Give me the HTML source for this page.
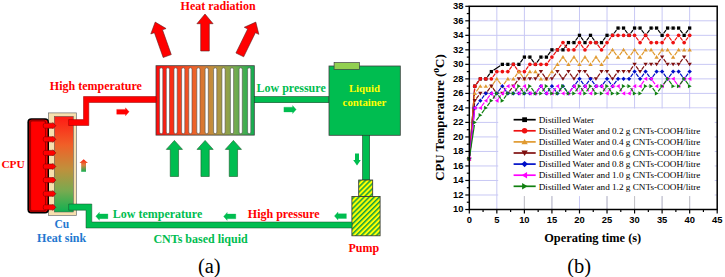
<!DOCTYPE html>
<html><head><meta charset="utf-8"><style>
html,body{margin:0;padding:0;background:#fff;width:725px;height:277px;overflow:hidden}
svg{display:block}
</style></head><body>
<svg width="725" height="277" viewBox="0 0 725 277">
<defs>
<linearGradient id="radg" x1="0" y1="0" x2="1" y2="0">
 <stop offset="0" stop-color="#ff0a0a"/>
 <stop offset="0.38" stop-color="#f06028"/>
 <stop offset="0.58" stop-color="#c0903c"/>
 <stop offset="0.8" stop-color="#78aa50"/>
 <stop offset="1" stop-color="#10b050"/>
</linearGradient>
<linearGradient id="hsg" x1="0" y1="0" x2="0" y2="1">
 <stop offset="0" stop-color="#ff1a14"/>
 <stop offset="0.3" stop-color="#f06028"/>
 <stop offset="0.55" stop-color="#c0903c"/>
 <stop offset="0.78" stop-color="#78aa50"/>
 <stop offset="1" stop-color="#10b050"/>
</linearGradient>
<linearGradient id="arg" x1="0" y1="0" x2="0" y2="1">
 <stop offset="0" stop-color="#ff1a0a"/>
 <stop offset="0.45" stop-color="#e08040"/>
 <stop offset="1" stop-color="#10b050"/>
</linearGradient>
<pattern id="hatch" patternUnits="userSpaceOnUse" width="3.6" height="3.6" patternTransform="rotate(45)">
 <rect width="3.6" height="3.6" fill="#ffff00"/>
 <rect width="1.5" height="3.6" fill="#14a040"/>
</pattern>
</defs>
<text x="218.1" y="9.6" style="font-family:'Liberation Serif',serif;font-size:12px;font-weight:bold;fill:#ff0000" text-anchor="middle" >Heat radiation</text>
<polygon points="155.20,22.10 166.07,28.54 162.49,29.81 171.27,54.60 163.16,57.47 154.38,32.68 150.80,33.95" fill="#ff0000" stroke="#602020" stroke-width="0.6"/>
<polygon points="205.00,14.00 213.10,23.70 209.30,23.70 209.30,51.00 200.70,51.00 200.70,23.70 196.90,23.70" fill="#ff0000" stroke="#602020" stroke-width="0.6"/>
<polygon points="255.80,22.10 258.83,34.37 255.41,32.70 243.66,56.79 235.93,53.02 247.68,28.93 244.27,27.27" fill="#ff0000" stroke="#602020" stroke-width="0.6"/>
<rect x="156" y="65.7" width="98.3" height="69.4" fill="url(#radg)" stroke="#404040" stroke-width="0.8"/>
<rect x="159.60" y="67.8" width="3.2" height="65.9" rx="1.6" fill="#ffffff" stroke="#505050" stroke-width="0.6"/>
<rect x="166.30" y="67.8" width="3.2" height="65.9" rx="1.6" fill="#ffffff" stroke="#505050" stroke-width="0.6"/>
<rect x="174.00" y="67.8" width="3.2" height="65.9" rx="1.6" fill="#ffffff" stroke="#505050" stroke-width="0.6"/>
<rect x="181.60" y="67.8" width="3.2" height="65.9" rx="1.6" fill="#ffffff" stroke="#505050" stroke-width="0.6"/>
<rect x="188.80" y="67.8" width="3.2" height="65.9" rx="1.6" fill="#ffffff" stroke="#505050" stroke-width="0.6"/>
<rect x="196.80" y="67.8" width="3.2" height="65.9" rx="1.6" fill="#ffffff" stroke="#505050" stroke-width="0.6"/>
<rect x="205.10" y="67.8" width="3.2" height="65.9" rx="1.6" fill="#ffffff" stroke="#505050" stroke-width="0.6"/>
<rect x="213.60" y="67.8" width="3.2" height="65.9" rx="1.6" fill="#ffffff" stroke="#505050" stroke-width="0.6"/>
<rect x="221.90" y="67.8" width="3.2" height="65.9" rx="1.6" fill="#ffffff" stroke="#505050" stroke-width="0.6"/>
<rect x="230.40" y="67.8" width="3.2" height="65.9" rx="1.6" fill="#ffffff" stroke="#505050" stroke-width="0.6"/>
<rect x="239.10" y="67.8" width="3.2" height="65.9" rx="1.6" fill="#ffffff" stroke="#505050" stroke-width="0.6"/>
<rect x="247.60" y="67.8" width="3.2" height="65.9" rx="1.6" fill="#ffffff" stroke="#505050" stroke-width="0.6"/>
<rect x="48.4" y="112.9" width="28" height="102.5" fill="#f6e0ae" stroke="#707070" stroke-width="0.7"/>
<rect x="54.3" y="116.4" width="19" height="95.6" fill="url(#hsg)" stroke="#505050" stroke-width="0.5"/>
<rect x="27.4" y="118.2" width="21.6" height="95.3" rx="4" fill="#000"/>
<rect x="29" y="119.8" width="18.6" height="92.1" rx="2.8" fill="#ff0000"/>
<rect x="29" y="119.8" width="17.1" height="92.1" rx="2.8" fill="#a00000"/>
<rect x="31.1" y="121.5" width="13.9" height="88.8" rx="1.2" fill="#ff0000"/>
<path d="M44.6,123.20 L52.9,123.20 L52.9,122.60 L55.8,125.70 L52.9,128.80 L52.9,128.20 L44.6,128.20 A1.4,2.5 0 0 1 44.6,123.20 Z" fill="#ff0000" stroke="#800000" stroke-width="0.6"/>
<path d="M44.6,136.80 L52.9,136.80 L52.9,136.20 L55.8,139.30 L52.9,142.40 L52.9,141.80 L44.6,141.80 A1.4,2.5 0 0 1 44.6,136.80 Z" fill="#ff0000" stroke="#800000" stroke-width="0.6"/>
<path d="M44.6,150.40 L52.9,150.40 L52.9,149.80 L55.8,152.90 L52.9,156.00 L52.9,155.40 L44.6,155.40 A1.4,2.5 0 0 1 44.6,150.40 Z" fill="#ff0000" stroke="#800000" stroke-width="0.6"/>
<path d="M44.6,164.00 L52.9,164.00 L52.9,163.40 L55.8,166.50 L52.9,169.60 L52.9,169.00 L44.6,169.00 A1.4,2.5 0 0 1 44.6,164.00 Z" fill="#ff0000" stroke="#800000" stroke-width="0.6"/>
<path d="M44.6,177.60 L52.9,177.60 L52.9,177.00 L55.8,180.10 L52.9,183.20 L52.9,182.60 L44.6,182.60 A1.4,2.5 0 0 1 44.6,177.60 Z" fill="#ff0000" stroke="#800000" stroke-width="0.6"/>
<path d="M44.6,191.20 L52.9,191.20 L52.9,190.60 L55.8,193.70 L52.9,196.80 L52.9,196.20 L44.6,196.20 A1.4,2.5 0 0 1 44.6,191.20 Z" fill="#ff0000" stroke="#800000" stroke-width="0.6"/>
<path d="M44.6,204.80 L52.9,204.80 L52.9,204.20 L55.8,207.30 L52.9,210.40 L52.9,209.80 L44.6,209.80 A1.4,2.5 0 0 1 44.6,204.80 Z" fill="#ff0000" stroke="#800000" stroke-width="0.6"/>
<polygon points="68.6,119.6 83.5,119.6 83.5,96.5 156,96.5 156,102.5 88.8,102.5 88.8,125.5 68.6,125.5" fill="#ff0000" stroke="#900000" stroke-width="0.5"/>
<polygon points="116.70,109.40 125.50,109.40 125.50,107.80 129.10,111.80 125.50,115.80 125.50,114.20 116.70,114.20" fill="#ff0000" stroke="#ff0000" stroke-width="0.3"/>
<rect x="254.3" y="96.6" width="74.7" height="6.1" fill="#00bd50" stroke="#1a4a2a" stroke-width="0.6"/>
<polygon points="283.90,107.20 292.60,107.20 292.60,105.60 296.20,109.60 292.60,113.60 292.60,112.00 283.90,112.00" fill="#00bd50" stroke="#00bd50" stroke-width="0.3"/>
<rect x="329" y="66" width="71.3" height="69.3" fill="#00bd50" stroke="#404040" stroke-width="0.8"/>
<rect x="334.1" y="62.6" width="25.3" height="6.8" fill="#92d050" stroke="#404040" stroke-width="0.7"/>
<text x="364.5" y="92" style="font-family:'Liberation Serif',serif;font-size:10.8px;font-weight:bold;fill:#ffff00" text-anchor="middle" >Liquid</text>
<text x="364.5" y="105.6" style="font-family:'Liberation Serif',serif;font-size:10.8px;font-weight:bold;fill:#ffff00" text-anchor="middle" >container</text>
<rect x="362.5" y="135.3" width="7.2" height="44.7" fill="#00bd50" stroke="#1a4a2a" stroke-width="0.6"/>
<polygon points="355,153.5 359,153.5 359,159.9 360.8,159.9 357,165.4 353.2,159.9 355,159.9" fill="#00bd50"/>
<rect x="358.7" y="180" width="14" height="16.4" fill="url(#hatch)" stroke="#303030" stroke-width="0.8"/>
<rect x="351.9" y="196.4" width="28.2" height="39.4" fill="url(#hatch)" stroke="#303030" stroke-width="0.8"/>
<text x="363.85" y="252.4" style="font-family:'Liberation Serif',serif;font-size:12px;font-weight:bold;fill:#ff0000" text-anchor="middle" >Pump</text>
<polygon points="351.9,222 91.8,222 91.8,204 68.7,204 68.7,210.2 86,210.2 86,228 351.9,228" fill="#00bd50" stroke="#1a4a2a" stroke-width="0.5"/>
<polygon points="107.90,213.90 99.40,213.90 99.40,212.30 95.80,216.30 99.40,220.30 99.40,218.70 107.90,218.70" fill="#00bd50" stroke="#00bd50" stroke-width="0.3"/>
<polygon points="235.80,214.00 227.20,214.00 227.20,212.40 223.60,216.40 227.20,220.40 227.20,218.80 235.80,218.80" fill="#00bd50" stroke="#00bd50" stroke-width="0.3"/>
<polygon points="346.40,213.70 338.00,213.70 338.00,212.10 334.40,216.10 338.00,220.10 338.00,218.50 346.40,218.50" fill="#00bd50" stroke="#00bd50" stroke-width="0.3"/>
<text x="49.8" y="90.2" style="font-family:'Liberation Serif',serif;font-size:12px;font-weight:bold;fill:#ff0000" text-anchor="start" >High temperature</text>
<text x="256.5" y="91.6" style="font-family:'Liberation Serif',serif;font-size:12px;font-weight:bold;fill:#00bd50" text-anchor="start" >Low pressure</text>
<text x="112.8" y="218.3" style="font-family:'Liberation Serif',serif;font-size:12px;font-weight:bold;fill:#00bd50" text-anchor="start" >Low temperature</text>
<text x="247.8" y="218.1" style="font-family:'Liberation Serif',serif;font-size:12px;font-weight:bold;fill:#ff0000" text-anchor="start" >High pressure</text>
<text x="153.4" y="242.9" style="font-family:'Liberation Serif',serif;font-size:12px;font-weight:bold;fill:#00bd50" text-anchor="start" >CNTs based liquid</text>
<polygon points="174.40,140.40 182.50,149.40 178.55,149.40 178.55,176.50 170.25,176.50 170.25,149.40 166.30,149.40" fill="#00bd50" stroke="#1a5a2a" stroke-width="0.6"/>
<polygon points="205.10,140.40 213.20,149.40 209.25,149.40 209.25,176.50 200.95,176.50 200.95,149.40 197.00,149.40" fill="#00bd50" stroke="#1a5a2a" stroke-width="0.6"/>
<polygon points="233.40,140.40 241.50,149.40 237.55,149.40 237.55,176.50 229.25,176.50 229.25,149.40 225.30,149.40" fill="#00bd50" stroke="#1a5a2a" stroke-width="0.6"/>
<text x="1.4" y="168.2" style="font-family:'Liberation Serif',serif;font-size:11.4px;font-weight:bold;fill:#ff0000" text-anchor="start" >CPU</text>
<text x="61.9" y="227.8" style="font-family:'Liberation Serif',serif;font-size:11.5px;font-weight:bold;fill:#1f78d0" text-anchor="middle" >Cu</text>
<text x="61.6" y="241.5" style="font-family:'Liberation Serif',serif;font-size:12px;font-weight:bold;fill:#1f78d0" text-anchor="middle" >Heat sink</text>
<polygon points="83.7,159.3 88,163.1 86,163.1 86,171.8 81.2,171.8 81.2,163.1 79.4,163.1" fill="url(#arg)"/>
<text x="209.3" y="272.7" style="font-family:'Liberation Serif',serif;font-size:20.5px;font-weight:normal;fill:#000" text-anchor="middle" >(a)</text>
<line x1="469.3" y1="194.99" x2="717.2" y2="194.99" stroke="#c8c8f4" stroke-width="1"/>
<line x1="469.3" y1="180.47" x2="717.2" y2="180.47" stroke="#c8c8f4" stroke-width="1"/>
<line x1="469.3" y1="165.96" x2="717.2" y2="165.96" stroke="#c8c8f4" stroke-width="1"/>
<line x1="469.3" y1="151.44" x2="717.2" y2="151.44" stroke="#c8c8f4" stroke-width="1"/>
<line x1="469.3" y1="136.93" x2="717.2" y2="136.93" stroke="#c8c8f4" stroke-width="1"/>
<line x1="469.3" y1="122.41" x2="717.2" y2="122.41" stroke="#c8c8f4" stroke-width="1"/>
<line x1="469.3" y1="107.90" x2="717.2" y2="107.90" stroke="#c8c8f4" stroke-width="1"/>
<line x1="469.3" y1="93.39" x2="717.2" y2="93.39" stroke="#c8c8f4" stroke-width="1"/>
<line x1="469.3" y1="78.87" x2="717.2" y2="78.87" stroke="#c8c8f4" stroke-width="1"/>
<line x1="469.3" y1="64.36" x2="717.2" y2="64.36" stroke="#c8c8f4" stroke-width="1"/>
<line x1="469.3" y1="49.84" x2="717.2" y2="49.84" stroke="#c8c8f4" stroke-width="1"/>
<line x1="469.3" y1="35.33" x2="717.2" y2="35.33" stroke="#c8c8f4" stroke-width="1"/>
<line x1="469.3" y1="20.81" x2="717.2" y2="20.81" stroke="#c8c8f4" stroke-width="1"/>
<line x1="496.84" y1="6.3" x2="496.84" y2="209.5" stroke="#c8c8f4" stroke-width="1"/>
<line x1="524.39" y1="6.3" x2="524.39" y2="209.5" stroke="#c8c8f4" stroke-width="1"/>
<line x1="551.93" y1="6.3" x2="551.93" y2="209.5" stroke="#c8c8f4" stroke-width="1"/>
<line x1="579.48" y1="6.3" x2="579.48" y2="209.5" stroke="#c8c8f4" stroke-width="1"/>
<line x1="607.02" y1="6.3" x2="607.02" y2="209.5" stroke="#c8c8f4" stroke-width="1"/>
<line x1="634.57" y1="6.3" x2="634.57" y2="209.5" stroke="#c8c8f4" stroke-width="1"/>
<line x1="662.11" y1="6.3" x2="662.11" y2="209.5" stroke="#c8c8f4" stroke-width="1"/>
<line x1="689.66" y1="6.3" x2="689.66" y2="209.5" stroke="#c8c8f4" stroke-width="1"/>
<line x1="465.3" y1="209.50" x2="469.3" y2="209.50" stroke="#000" stroke-width="1.2"/>
<line x1="466.8" y1="202.24" x2="469.3" y2="202.24" stroke="#000" stroke-width="1.2"/>
<line x1="465.3" y1="194.99" x2="469.3" y2="194.99" stroke="#000" stroke-width="1.2"/>
<line x1="466.8" y1="187.73" x2="469.3" y2="187.73" stroke="#000" stroke-width="1.2"/>
<line x1="465.3" y1="180.47" x2="469.3" y2="180.47" stroke="#000" stroke-width="1.2"/>
<line x1="466.8" y1="173.21" x2="469.3" y2="173.21" stroke="#000" stroke-width="1.2"/>
<line x1="465.3" y1="165.96" x2="469.3" y2="165.96" stroke="#000" stroke-width="1.2"/>
<line x1="466.8" y1="158.70" x2="469.3" y2="158.70" stroke="#000" stroke-width="1.2"/>
<line x1="465.3" y1="151.44" x2="469.3" y2="151.44" stroke="#000" stroke-width="1.2"/>
<line x1="466.8" y1="144.19" x2="469.3" y2="144.19" stroke="#000" stroke-width="1.2"/>
<line x1="465.3" y1="136.93" x2="469.3" y2="136.93" stroke="#000" stroke-width="1.2"/>
<line x1="466.8" y1="129.67" x2="469.3" y2="129.67" stroke="#000" stroke-width="1.2"/>
<line x1="465.3" y1="122.41" x2="469.3" y2="122.41" stroke="#000" stroke-width="1.2"/>
<line x1="466.8" y1="115.16" x2="469.3" y2="115.16" stroke="#000" stroke-width="1.2"/>
<line x1="465.3" y1="107.90" x2="469.3" y2="107.90" stroke="#000" stroke-width="1.2"/>
<line x1="466.8" y1="100.64" x2="469.3" y2="100.64" stroke="#000" stroke-width="1.2"/>
<line x1="465.3" y1="93.39" x2="469.3" y2="93.39" stroke="#000" stroke-width="1.2"/>
<line x1="466.8" y1="86.13" x2="469.3" y2="86.13" stroke="#000" stroke-width="1.2"/>
<line x1="465.3" y1="78.87" x2="469.3" y2="78.87" stroke="#000" stroke-width="1.2"/>
<line x1="466.8" y1="71.61" x2="469.3" y2="71.61" stroke="#000" stroke-width="1.2"/>
<line x1="465.3" y1="64.36" x2="469.3" y2="64.36" stroke="#000" stroke-width="1.2"/>
<line x1="466.8" y1="57.10" x2="469.3" y2="57.10" stroke="#000" stroke-width="1.2"/>
<line x1="465.3" y1="49.84" x2="469.3" y2="49.84" stroke="#000" stroke-width="1.2"/>
<line x1="466.8" y1="42.59" x2="469.3" y2="42.59" stroke="#000" stroke-width="1.2"/>
<line x1="465.3" y1="35.33" x2="469.3" y2="35.33" stroke="#000" stroke-width="1.2"/>
<line x1="466.8" y1="28.07" x2="469.3" y2="28.07" stroke="#000" stroke-width="1.2"/>
<line x1="465.3" y1="20.81" x2="469.3" y2="20.81" stroke="#000" stroke-width="1.2"/>
<line x1="466.8" y1="13.56" x2="469.3" y2="13.56" stroke="#000" stroke-width="1.2"/>
<line x1="465.3" y1="6.30" x2="469.3" y2="6.30" stroke="#000" stroke-width="1.2"/>
<line x1="469.30" y1="209.5" x2="469.30" y2="213.5" stroke="#000" stroke-width="1.2"/>
<line x1="483.07" y1="209.5" x2="483.07" y2="212.0" stroke="#000" stroke-width="1.2"/>
<line x1="496.84" y1="209.5" x2="496.84" y2="213.5" stroke="#000" stroke-width="1.2"/>
<line x1="510.62" y1="209.5" x2="510.62" y2="212.0" stroke="#000" stroke-width="1.2"/>
<line x1="524.39" y1="209.5" x2="524.39" y2="213.5" stroke="#000" stroke-width="1.2"/>
<line x1="538.16" y1="209.5" x2="538.16" y2="212.0" stroke="#000" stroke-width="1.2"/>
<line x1="551.93" y1="209.5" x2="551.93" y2="213.5" stroke="#000" stroke-width="1.2"/>
<line x1="565.71" y1="209.5" x2="565.71" y2="212.0" stroke="#000" stroke-width="1.2"/>
<line x1="579.48" y1="209.5" x2="579.48" y2="213.5" stroke="#000" stroke-width="1.2"/>
<line x1="593.25" y1="209.5" x2="593.25" y2="212.0" stroke="#000" stroke-width="1.2"/>
<line x1="607.02" y1="209.5" x2="607.02" y2="213.5" stroke="#000" stroke-width="1.2"/>
<line x1="620.79" y1="209.5" x2="620.79" y2="212.0" stroke="#000" stroke-width="1.2"/>
<line x1="634.57" y1="209.5" x2="634.57" y2="213.5" stroke="#000" stroke-width="1.2"/>
<line x1="648.34" y1="209.5" x2="648.34" y2="212.0" stroke="#000" stroke-width="1.2"/>
<line x1="662.11" y1="209.5" x2="662.11" y2="213.5" stroke="#000" stroke-width="1.2"/>
<line x1="675.88" y1="209.5" x2="675.88" y2="212.0" stroke="#000" stroke-width="1.2"/>
<line x1="689.66" y1="209.5" x2="689.66" y2="213.5" stroke="#000" stroke-width="1.2"/>
<line x1="703.43" y1="209.5" x2="703.43" y2="212.0" stroke="#000" stroke-width="1.2"/>
<line x1="717.20" y1="209.5" x2="717.20" y2="213.5" stroke="#000" stroke-width="1.2"/>
<text x="463.4" y="212.20" style="font-family:'Liberation Sans',sans-serif;font-size:9.4px;font-weight:bold;fill:#000" text-anchor="end" >10</text>
<text x="463.4" y="197.69" style="font-family:'Liberation Sans',sans-serif;font-size:9.4px;font-weight:bold;fill:#000" text-anchor="end" >12</text>
<text x="463.4" y="183.17" style="font-family:'Liberation Sans',sans-serif;font-size:9.4px;font-weight:bold;fill:#000" text-anchor="end" >14</text>
<text x="463.4" y="168.66" style="font-family:'Liberation Sans',sans-serif;font-size:9.4px;font-weight:bold;fill:#000" text-anchor="end" >16</text>
<text x="463.4" y="154.14" style="font-family:'Liberation Sans',sans-serif;font-size:9.4px;font-weight:bold;fill:#000" text-anchor="end" >18</text>
<text x="463.4" y="139.63" style="font-family:'Liberation Sans',sans-serif;font-size:9.4px;font-weight:bold;fill:#000" text-anchor="end" >20</text>
<text x="463.4" y="125.11" style="font-family:'Liberation Sans',sans-serif;font-size:9.4px;font-weight:bold;fill:#000" text-anchor="end" >22</text>
<text x="463.4" y="110.60" style="font-family:'Liberation Sans',sans-serif;font-size:9.4px;font-weight:bold;fill:#000" text-anchor="end" >24</text>
<text x="463.4" y="96.09" style="font-family:'Liberation Sans',sans-serif;font-size:9.4px;font-weight:bold;fill:#000" text-anchor="end" >26</text>
<text x="463.4" y="81.57" style="font-family:'Liberation Sans',sans-serif;font-size:9.4px;font-weight:bold;fill:#000" text-anchor="end" >28</text>
<text x="463.4" y="67.06" style="font-family:'Liberation Sans',sans-serif;font-size:9.4px;font-weight:bold;fill:#000" text-anchor="end" >30</text>
<text x="463.4" y="52.54" style="font-family:'Liberation Sans',sans-serif;font-size:9.4px;font-weight:bold;fill:#000" text-anchor="end" >32</text>
<text x="463.4" y="38.03" style="font-family:'Liberation Sans',sans-serif;font-size:9.4px;font-weight:bold;fill:#000" text-anchor="end" >34</text>
<text x="463.4" y="23.51" style="font-family:'Liberation Sans',sans-serif;font-size:9.4px;font-weight:bold;fill:#000" text-anchor="end" >36</text>
<text x="463.4" y="9.00" style="font-family:'Liberation Sans',sans-serif;font-size:9.4px;font-weight:bold;fill:#000" text-anchor="end" >38</text>
<text x="469.30" y="223.0" style="font-family:'Liberation Sans',sans-serif;font-size:9.4px;font-weight:bold;fill:#000" text-anchor="middle" >0</text>
<text x="496.84" y="223.0" style="font-family:'Liberation Sans',sans-serif;font-size:9.4px;font-weight:bold;fill:#000" text-anchor="middle" >5</text>
<text x="524.39" y="223.0" style="font-family:'Liberation Sans',sans-serif;font-size:9.4px;font-weight:bold;fill:#000" text-anchor="middle" >10</text>
<text x="551.93" y="223.0" style="font-family:'Liberation Sans',sans-serif;font-size:9.4px;font-weight:bold;fill:#000" text-anchor="middle" >15</text>
<text x="579.48" y="223.0" style="font-family:'Liberation Sans',sans-serif;font-size:9.4px;font-weight:bold;fill:#000" text-anchor="middle" >20</text>
<text x="607.02" y="223.0" style="font-family:'Liberation Sans',sans-serif;font-size:9.4px;font-weight:bold;fill:#000" text-anchor="middle" >25</text>
<text x="634.57" y="223.0" style="font-family:'Liberation Sans',sans-serif;font-size:9.4px;font-weight:bold;fill:#000" text-anchor="middle" >30</text>
<text x="662.11" y="223.0" style="font-family:'Liberation Sans',sans-serif;font-size:9.4px;font-weight:bold;fill:#000" text-anchor="middle" >35</text>
<text x="689.66" y="223.0" style="font-family:'Liberation Sans',sans-serif;font-size:9.4px;font-weight:bold;fill:#000" text-anchor="middle" >40</text>
<text x="717.20" y="223.0" style="font-family:'Liberation Sans',sans-serif;font-size:9.4px;font-weight:bold;fill:#000" text-anchor="middle" >45</text>
<text transform="translate(443.6,117.6) rotate(-90)" text-anchor="middle" style="font-family:'Liberation Serif',serif;font-size:12.85px;font-weight:bold;fill:#000">CPU Temperature (<tspan dy="-4.5" style="font-size:9.5px">o</tspan><tspan dy="4.5">C)</tspan></text>
<text x="592.7" y="242" style="font-family:'Liberation Serif',serif;font-size:12.4px;font-weight:bold;fill:#000" text-anchor="middle" >Operating time (s)</text>
<text x="579.2" y="272.7" style="font-family:'Liberation Serif',serif;font-size:20.5px;font-weight:normal;fill:#000" text-anchor="middle" >(b)</text>
<path d="M469.50,156.11L474.61,88.72M476.38,84.06L478.75,80.94M482.92,78.87L483.23,78.87M487.40,76.80L489.76,73.69M493.51,70.18L500.18,65.79M504.95,64.36L505.26,64.36M510.46,64.36L510.77,64.36M515.97,64.36L516.28,64.36M520.45,62.29L522.82,59.17M526.99,57.10L527.30,57.10M531.47,59.17L533.83,62.29M536.98,62.29L539.34,59.17M543.52,57.10L543.82,57.10M548.00,55.03L550.36,51.91M554.53,49.84L554.84,49.84M560.04,49.84L560.35,49.84M564.52,47.77L566.89,44.66M571.06,42.59L571.37,42.59M575.54,40.51L577.91,37.40M581.05,37.40L583.41,40.51M586.56,40.51L588.92,37.40M592.07,37.40L594.43,40.51M598.60,42.59L598.91,42.59M603.09,40.51L605.45,37.40M609.62,35.33L609.93,35.33M614.10,33.26L616.47,30.14M620.64,28.07L620.95,28.07M625.12,30.14L627.49,33.26M630.63,33.26L632.99,30.14M637.17,28.07L637.48,28.07M641.65,30.14L644.01,33.26M647.16,33.26L649.52,30.14M653.69,28.07L654.00,28.07M658.17,30.14L660.54,33.26M663.68,33.26L666.05,30.14M670.22,28.07L670.53,28.07M675.73,28.07L676.04,28.07M680.21,30.14L682.57,33.26M685.72,33.26L688.08,30.14" fill="none" stroke="#000000" stroke-width="1.2"/>
<rect x="467.65" y="157.05" width="3.30" height="3.30" fill="#000000"/>
<rect x="473.16" y="84.48" width="3.30" height="3.30" fill="#000000"/>
<rect x="478.67" y="77.22" width="3.30" height="3.30" fill="#000000"/>
<rect x="484.18" y="77.22" width="3.30" height="3.30" fill="#000000"/>
<rect x="489.69" y="69.96" width="3.30" height="3.30" fill="#000000"/>
<rect x="500.70" y="62.71" width="3.30" height="3.30" fill="#000000"/>
<rect x="506.21" y="62.71" width="3.30" height="3.30" fill="#000000"/>
<rect x="511.72" y="62.71" width="3.30" height="3.30" fill="#000000"/>
<rect x="517.23" y="62.71" width="3.30" height="3.30" fill="#000000"/>
<rect x="522.74" y="55.45" width="3.30" height="3.30" fill="#000000"/>
<rect x="528.25" y="55.45" width="3.30" height="3.30" fill="#000000"/>
<rect x="533.76" y="62.71" width="3.30" height="3.30" fill="#000000"/>
<rect x="539.27" y="55.45" width="3.30" height="3.30" fill="#000000"/>
<rect x="544.77" y="55.45" width="3.30" height="3.30" fill="#000000"/>
<rect x="550.28" y="48.19" width="3.30" height="3.30" fill="#000000"/>
<rect x="555.79" y="48.19" width="3.30" height="3.30" fill="#000000"/>
<rect x="561.30" y="48.19" width="3.30" height="3.30" fill="#000000"/>
<rect x="566.81" y="40.94" width="3.30" height="3.30" fill="#000000"/>
<rect x="572.32" y="40.94" width="3.30" height="3.30" fill="#000000"/>
<rect x="577.83" y="33.68" width="3.30" height="3.30" fill="#000000"/>
<rect x="583.34" y="40.94" width="3.30" height="3.30" fill="#000000"/>
<rect x="588.85" y="33.68" width="3.30" height="3.30" fill="#000000"/>
<rect x="594.35" y="40.94" width="3.30" height="3.30" fill="#000000"/>
<rect x="599.86" y="40.94" width="3.30" height="3.30" fill="#000000"/>
<rect x="605.37" y="33.68" width="3.30" height="3.30" fill="#000000"/>
<rect x="610.88" y="33.68" width="3.30" height="3.30" fill="#000000"/>
<rect x="616.39" y="26.42" width="3.30" height="3.30" fill="#000000"/>
<rect x="621.90" y="26.42" width="3.30" height="3.30" fill="#000000"/>
<rect x="627.41" y="33.68" width="3.30" height="3.30" fill="#000000"/>
<rect x="632.92" y="26.42" width="3.30" height="3.30" fill="#000000"/>
<rect x="638.43" y="26.42" width="3.30" height="3.30" fill="#000000"/>
<rect x="643.93" y="33.68" width="3.30" height="3.30" fill="#000000"/>
<rect x="649.44" y="26.42" width="3.30" height="3.30" fill="#000000"/>
<rect x="654.95" y="26.42" width="3.30" height="3.30" fill="#000000"/>
<rect x="660.46" y="33.68" width="3.30" height="3.30" fill="#000000"/>
<rect x="665.97" y="26.42" width="3.30" height="3.30" fill="#000000"/>
<rect x="671.48" y="26.42" width="3.30" height="3.30" fill="#000000"/>
<rect x="676.99" y="26.42" width="3.30" height="3.30" fill="#000000"/>
<rect x="682.50" y="33.68" width="3.30" height="3.30" fill="#000000"/>
<rect x="688.01" y="26.42" width="3.30" height="3.30" fill="#000000"/>
<path d="M469.50,156.11L474.61,88.72M476.38,84.06L478.75,80.94M482.92,78.87L483.23,78.87M488.43,78.87L488.74,78.87M492.91,76.80L495.27,73.69M499.44,71.61L499.75,71.61M504.95,71.61L505.26,71.61M509.43,69.54L511.80,66.43M514.94,66.43L517.31,69.54M521.48,71.61L521.79,71.61M525.96,69.54L528.33,66.43M532.50,64.36L532.81,64.36M538.01,64.36L538.32,64.36M543.52,64.36L543.82,64.36M548.00,62.29L550.36,59.17M553.51,55.03L555.87,51.91M559.01,47.77L561.38,44.66M564.52,44.66L566.89,47.77M571.06,49.84L571.37,49.84M575.54,47.77L577.91,44.66M581.05,44.66L583.41,47.77M586.56,47.77L588.92,44.66M593.10,42.59L593.40,42.59M597.58,44.66L599.94,47.77M603.09,47.77L605.45,44.66M608.59,40.51L610.96,37.40M615.13,35.33L615.44,35.33M620.64,35.33L620.95,35.33M626.15,35.33L626.46,35.33M631.66,35.33L631.97,35.33M636.14,37.40L638.50,40.51M641.65,40.51L644.01,37.40M647.16,37.40L649.52,40.51M653.69,42.59L654.00,42.59M659.20,42.59L659.51,42.59M663.68,40.51L666.05,37.40M669.19,37.40L671.56,40.51M674.70,40.51L677.07,37.40M680.21,37.40L682.57,40.51M685.72,40.51L688.08,37.40" fill="none" stroke="#ee1111" stroke-width="1.2"/>
<circle cx="469.30" cy="158.70" r="1.85" fill="#ee1111"/>
<circle cx="474.81" cy="86.13" r="1.85" fill="#ee1111"/>
<circle cx="480.32" cy="78.87" r="1.85" fill="#ee1111"/>
<circle cx="485.83" cy="78.87" r="1.85" fill="#ee1111"/>
<circle cx="491.34" cy="78.87" r="1.85" fill="#ee1111"/>
<circle cx="496.84" cy="71.61" r="1.85" fill="#ee1111"/>
<circle cx="502.35" cy="71.61" r="1.85" fill="#ee1111"/>
<circle cx="507.86" cy="71.61" r="1.85" fill="#ee1111"/>
<circle cx="513.37" cy="64.36" r="1.85" fill="#ee1111"/>
<circle cx="518.88" cy="71.61" r="1.85" fill="#ee1111"/>
<circle cx="524.39" cy="71.61" r="1.85" fill="#ee1111"/>
<circle cx="529.90" cy="64.36" r="1.85" fill="#ee1111"/>
<circle cx="535.41" cy="64.36" r="1.85" fill="#ee1111"/>
<circle cx="540.92" cy="64.36" r="1.85" fill="#ee1111"/>
<circle cx="546.42" cy="64.36" r="1.85" fill="#ee1111"/>
<circle cx="551.93" cy="57.10" r="1.85" fill="#ee1111"/>
<circle cx="557.44" cy="49.84" r="1.85" fill="#ee1111"/>
<circle cx="562.95" cy="42.59" r="1.85" fill="#ee1111"/>
<circle cx="568.46" cy="49.84" r="1.85" fill="#ee1111"/>
<circle cx="573.97" cy="49.84" r="1.85" fill="#ee1111"/>
<circle cx="579.48" cy="42.59" r="1.85" fill="#ee1111"/>
<circle cx="584.99" cy="49.84" r="1.85" fill="#ee1111"/>
<circle cx="590.50" cy="42.59" r="1.85" fill="#ee1111"/>
<circle cx="596.00" cy="42.59" r="1.85" fill="#ee1111"/>
<circle cx="601.51" cy="49.84" r="1.85" fill="#ee1111"/>
<circle cx="607.02" cy="42.59" r="1.85" fill="#ee1111"/>
<circle cx="612.53" cy="35.33" r="1.85" fill="#ee1111"/>
<circle cx="618.04" cy="35.33" r="1.85" fill="#ee1111"/>
<circle cx="623.55" cy="35.33" r="1.85" fill="#ee1111"/>
<circle cx="629.06" cy="35.33" r="1.85" fill="#ee1111"/>
<circle cx="634.57" cy="35.33" r="1.85" fill="#ee1111"/>
<circle cx="640.08" cy="42.59" r="1.85" fill="#ee1111"/>
<circle cx="645.58" cy="35.33" r="1.85" fill="#ee1111"/>
<circle cx="651.09" cy="42.59" r="1.85" fill="#ee1111"/>
<circle cx="656.60" cy="42.59" r="1.85" fill="#ee1111"/>
<circle cx="662.11" cy="42.59" r="1.85" fill="#ee1111"/>
<circle cx="667.62" cy="35.33" r="1.85" fill="#ee1111"/>
<circle cx="673.13" cy="42.59" r="1.85" fill="#ee1111"/>
<circle cx="678.64" cy="35.33" r="1.85" fill="#ee1111"/>
<circle cx="684.15" cy="42.59" r="1.85" fill="#ee1111"/>
<circle cx="689.66" cy="35.33" r="1.85" fill="#ee1111"/>
<path d="M469.52,156.11L474.59,95.98M476.38,91.31L478.75,88.20M482.92,86.13L483.23,86.13M488.43,86.13L488.74,86.13M492.91,84.06L495.27,80.94M498.42,80.94L500.78,84.06M503.93,84.06L506.29,80.94M510.46,78.87L510.77,78.87M514.94,76.80L517.31,73.69M520.45,73.69L522.82,76.80M525.96,76.80L528.33,73.69M532.50,71.61L532.81,71.61M536.98,73.69L539.34,76.80M543.52,78.87L543.82,78.87M548.00,76.80L550.36,73.69M553.51,69.54L555.87,66.43M559.01,62.29L561.38,59.17M564.52,59.17L566.89,62.29M570.03,62.29L572.40,59.17M575.54,59.17L577.91,62.29M581.05,62.29L583.41,59.17M586.56,59.17L588.92,62.29M592.07,62.29L594.43,59.17M597.58,59.17L599.94,62.29M603.09,62.29L605.45,59.17M608.59,55.03L610.96,51.91M614.10,51.91L616.47,55.03M619.61,55.03L621.98,51.91M625.12,51.91L627.49,55.03M630.63,55.03L632.99,51.91M636.14,51.91L638.50,55.03M641.65,55.03L644.01,51.91M648.18,49.84L648.49,49.84M652.67,51.91L655.03,55.03M658.17,55.03L660.54,51.91M664.71,49.84L665.02,49.84M669.19,51.91L671.56,55.03M674.70,55.03L677.07,51.91M681.24,49.84L681.55,49.84M686.75,49.84L687.06,49.84" fill="none" stroke="#e09a30" stroke-width="1.2"/>
<polygon points="469.30,156.70 471.50,160.40 467.10,160.40" fill="#e09a30"/>
<polygon points="474.81,91.39 477.01,95.09 472.61,95.09" fill="#e09a30"/>
<polygon points="480.32,84.13 482.52,87.83 478.12,87.83" fill="#e09a30"/>
<polygon points="485.83,84.13 488.03,87.83 483.63,87.83" fill="#e09a30"/>
<polygon points="491.34,84.13 493.54,87.83 489.14,87.83" fill="#e09a30"/>
<polygon points="496.84,76.87 499.04,80.57 494.64,80.57" fill="#e09a30"/>
<polygon points="502.35,84.13 504.55,87.83 500.15,87.83" fill="#e09a30"/>
<polygon points="507.86,76.87 510.06,80.57 505.66,80.57" fill="#e09a30"/>
<polygon points="513.37,76.87 515.57,80.57 511.17,80.57" fill="#e09a30"/>
<polygon points="518.88,69.61 521.08,73.31 516.68,73.31" fill="#e09a30"/>
<polygon points="524.39,76.87 526.59,80.57 522.19,80.57" fill="#e09a30"/>
<polygon points="529.90,69.61 532.10,73.31 527.70,73.31" fill="#e09a30"/>
<polygon points="535.41,69.61 537.61,73.31 533.21,73.31" fill="#e09a30"/>
<polygon points="540.92,76.87 543.12,80.57 538.72,80.57" fill="#e09a30"/>
<polygon points="546.42,76.87 548.62,80.57 544.22,80.57" fill="#e09a30"/>
<polygon points="551.93,69.61 554.13,73.31 549.73,73.31" fill="#e09a30"/>
<polygon points="557.44,62.36 559.64,66.06 555.24,66.06" fill="#e09a30"/>
<polygon points="562.95,55.10 565.15,58.80 560.75,58.80" fill="#e09a30"/>
<polygon points="568.46,62.36 570.66,66.06 566.26,66.06" fill="#e09a30"/>
<polygon points="573.97,55.10 576.17,58.80 571.77,58.80" fill="#e09a30"/>
<polygon points="579.48,62.36 581.68,66.06 577.28,66.06" fill="#e09a30"/>
<polygon points="584.99,55.10 587.19,58.80 582.79,58.80" fill="#e09a30"/>
<polygon points="590.50,62.36 592.70,66.06 588.30,66.06" fill="#e09a30"/>
<polygon points="596.00,55.10 598.20,58.80 593.80,58.80" fill="#e09a30"/>
<polygon points="601.51,62.36 603.71,66.06 599.31,66.06" fill="#e09a30"/>
<polygon points="607.02,55.10 609.22,58.80 604.82,58.80" fill="#e09a30"/>
<polygon points="612.53,47.84 614.73,51.54 610.33,51.54" fill="#e09a30"/>
<polygon points="618.04,55.10 620.24,58.80 615.84,58.80" fill="#e09a30"/>
<polygon points="623.55,47.84 625.75,51.54 621.35,51.54" fill="#e09a30"/>
<polygon points="629.06,55.10 631.26,58.80 626.86,58.80" fill="#e09a30"/>
<polygon points="634.57,47.84 636.77,51.54 632.37,51.54" fill="#e09a30"/>
<polygon points="640.08,55.10 642.28,58.80 637.88,58.80" fill="#e09a30"/>
<polygon points="645.58,47.84 647.78,51.54 643.38,51.54" fill="#e09a30"/>
<polygon points="651.09,47.84 653.29,51.54 648.89,51.54" fill="#e09a30"/>
<polygon points="656.60,55.10 658.80,58.80 654.40,58.80" fill="#e09a30"/>
<polygon points="662.11,47.84 664.31,51.54 659.91,51.54" fill="#e09a30"/>
<polygon points="667.62,47.84 669.82,51.54 665.42,51.54" fill="#e09a30"/>
<polygon points="673.13,55.10 675.33,58.80 670.93,58.80" fill="#e09a30"/>
<polygon points="678.64,47.84 680.84,51.54 676.44,51.54" fill="#e09a30"/>
<polygon points="684.15,47.84 686.35,51.54 681.95,51.54" fill="#e09a30"/>
<polygon points="689.66,47.84 691.86,51.54 687.46,51.54" fill="#e09a30"/>
<path d="M469.55,156.11L474.56,103.23M476.38,98.57L478.75,95.46M482.92,93.39L483.23,93.39M487.40,91.31L489.76,88.20M492.91,88.20L495.27,91.31M499.44,93.39L499.75,93.39M504.95,93.39L505.26,93.39M509.43,91.31L511.80,88.20M514.94,84.06L517.31,80.94M521.48,78.87L521.79,78.87M526.99,78.87L527.30,78.87M532.50,78.87L532.81,78.87M536.98,76.80L539.34,73.69M542.49,73.69L544.85,76.80M549.02,78.87L549.33,78.87M553.51,76.80L555.87,73.69M559.01,73.69L561.38,76.80M564.52,76.80L566.89,73.69M570.03,73.69L572.40,76.80M575.54,76.80L577.91,73.69M582.08,71.61L582.39,71.61M586.56,73.69L588.92,76.80M593.10,78.87L593.40,78.87M597.58,76.80L599.94,73.69M604.11,71.61L604.42,71.61M608.59,73.69L610.96,76.80M614.10,76.80L616.47,73.69M620.64,71.61L620.95,71.61M626.15,71.61L626.46,71.61M630.63,69.54L632.99,66.43M636.14,66.43L638.50,69.54M641.65,69.54L644.01,66.43M648.18,64.36L648.49,64.36M653.69,64.36L654.00,64.36M658.17,62.29L660.54,59.17M663.68,59.17L666.05,62.29M670.22,64.36L670.53,64.36M675.73,64.36L676.04,64.36M680.21,62.29L682.57,59.17M685.72,59.17L688.08,62.29" fill="none" stroke="#801010" stroke-width="1.2"/>
<polygon points="469.30,160.70 471.50,157.00 467.10,157.00" fill="#801010"/>
<polygon points="474.81,102.64 477.01,98.94 472.61,98.94" fill="#801010"/>
<polygon points="480.32,95.39 482.52,91.69 478.12,91.69" fill="#801010"/>
<polygon points="485.83,95.39 488.03,91.69 483.63,91.69" fill="#801010"/>
<polygon points="491.34,88.13 493.54,84.43 489.14,84.43" fill="#801010"/>
<polygon points="496.84,95.39 499.04,91.69 494.64,91.69" fill="#801010"/>
<polygon points="502.35,95.39 504.55,91.69 500.15,91.69" fill="#801010"/>
<polygon points="507.86,95.39 510.06,91.69 505.66,91.69" fill="#801010"/>
<polygon points="513.37,88.13 515.57,84.43 511.17,84.43" fill="#801010"/>
<polygon points="518.88,80.87 521.08,77.17 516.68,77.17" fill="#801010"/>
<polygon points="524.39,80.87 526.59,77.17 522.19,77.17" fill="#801010"/>
<polygon points="529.90,80.87 532.10,77.17 527.70,77.17" fill="#801010"/>
<polygon points="535.41,80.87 537.61,77.17 533.21,77.17" fill="#801010"/>
<polygon points="540.92,73.61 543.12,69.91 538.72,69.91" fill="#801010"/>
<polygon points="546.42,80.87 548.62,77.17 544.22,77.17" fill="#801010"/>
<polygon points="551.93,80.87 554.13,77.17 549.73,77.17" fill="#801010"/>
<polygon points="557.44,73.61 559.64,69.91 555.24,69.91" fill="#801010"/>
<polygon points="562.95,80.87 565.15,77.17 560.75,77.17" fill="#801010"/>
<polygon points="568.46,73.61 570.66,69.91 566.26,69.91" fill="#801010"/>
<polygon points="573.97,80.87 576.17,77.17 571.77,77.17" fill="#801010"/>
<polygon points="579.48,73.61 581.68,69.91 577.28,69.91" fill="#801010"/>
<polygon points="584.99,73.61 587.19,69.91 582.79,69.91" fill="#801010"/>
<polygon points="590.50,80.87 592.70,77.17 588.30,77.17" fill="#801010"/>
<polygon points="596.00,80.87 598.20,77.17 593.80,77.17" fill="#801010"/>
<polygon points="601.51,73.61 603.71,69.91 599.31,69.91" fill="#801010"/>
<polygon points="607.02,73.61 609.22,69.91 604.82,69.91" fill="#801010"/>
<polygon points="612.53,80.87 614.73,77.17 610.33,77.17" fill="#801010"/>
<polygon points="618.04,73.61 620.24,69.91 615.84,69.91" fill="#801010"/>
<polygon points="623.55,73.61 625.75,69.91 621.35,69.91" fill="#801010"/>
<polygon points="629.06,73.61 631.26,69.91 626.86,69.91" fill="#801010"/>
<polygon points="634.57,66.36 636.77,62.66 632.37,62.66" fill="#801010"/>
<polygon points="640.08,73.61 642.28,69.91 637.88,69.91" fill="#801010"/>
<polygon points="645.58,66.36 647.78,62.66 643.38,62.66" fill="#801010"/>
<polygon points="651.09,66.36 653.29,62.66 648.89,62.66" fill="#801010"/>
<polygon points="656.60,66.36 658.80,62.66 654.40,62.66" fill="#801010"/>
<polygon points="662.11,59.10 664.31,55.40 659.91,55.40" fill="#801010"/>
<polygon points="667.62,66.36 669.82,62.66 665.42,62.66" fill="#801010"/>
<polygon points="673.13,66.36 675.33,62.66 670.93,62.66" fill="#801010"/>
<polygon points="678.64,66.36 680.84,62.66 676.44,62.66" fill="#801010"/>
<polygon points="684.15,59.10 686.35,55.40 681.95,55.40" fill="#801010"/>
<polygon points="689.66,66.36 691.86,62.66 687.46,62.66" fill="#801010"/>
<path d="M469.58,156.12L474.53,110.48M476.38,105.83L478.75,102.71M481.89,98.57L484.25,95.46M488.43,93.39L488.74,93.39M493.94,93.39L494.24,93.39M498.42,91.31L500.78,88.20M503.93,88.20L506.29,91.31M510.46,93.39L510.77,93.39M515.97,93.39L516.28,93.39M521.48,93.39L521.79,93.39M526.99,93.39L527.30,93.39M532.50,93.39L532.81,93.39M536.98,91.31L539.34,88.20M542.49,88.20L544.85,91.31M548.00,91.31L550.36,88.20M553.51,88.20L555.87,91.31M559.01,91.31L561.38,88.20M564.52,88.20L566.89,91.31M570.03,91.31L572.40,88.20M575.54,84.06L577.91,80.94M581.05,80.94L583.41,84.06M586.56,84.06L588.92,80.94M592.07,80.94L594.43,84.06M598.60,86.13L598.91,86.13M603.09,84.06L605.45,80.94M608.59,80.94L610.96,84.06M614.10,84.06L616.47,80.94M620.64,78.87L620.95,78.87M626.15,78.87L626.46,78.87M630.63,76.80L632.99,73.69M636.14,73.69L638.50,76.80M641.65,76.80L644.01,73.69M647.16,73.69L649.52,76.80M652.67,76.80L655.03,73.69M659.20,71.61L659.51,71.61M663.68,73.69L666.05,76.80M669.19,76.80L671.56,73.69M675.73,71.61L676.04,71.61M680.21,73.69L682.57,76.80M685.72,76.80L688.08,73.69" fill="none" stroke="#0010c8" stroke-width="1.2"/>
<polygon points="469.30,156.50 471.50,158.70 469.30,160.90 467.10,158.70" fill="#0010c8"/>
<polygon points="474.81,105.70 477.01,107.90 474.81,110.10 472.61,107.90" fill="#0010c8"/>
<polygon points="480.32,98.44 482.52,100.64 480.32,102.84 478.12,100.64" fill="#0010c8"/>
<polygon points="485.83,91.19 488.03,93.39 485.83,95.59 483.63,93.39" fill="#0010c8"/>
<polygon points="491.34,91.19 493.54,93.39 491.34,95.59 489.14,93.39" fill="#0010c8"/>
<polygon points="496.84,91.19 499.04,93.39 496.84,95.59 494.64,93.39" fill="#0010c8"/>
<polygon points="502.35,83.93 504.55,86.13 502.35,88.33 500.15,86.13" fill="#0010c8"/>
<polygon points="507.86,91.19 510.06,93.39 507.86,95.59 505.66,93.39" fill="#0010c8"/>
<polygon points="513.37,91.19 515.57,93.39 513.37,95.59 511.17,93.39" fill="#0010c8"/>
<polygon points="518.88,91.19 521.08,93.39 518.88,95.59 516.68,93.39" fill="#0010c8"/>
<polygon points="524.39,91.19 526.59,93.39 524.39,95.59 522.19,93.39" fill="#0010c8"/>
<polygon points="529.90,91.19 532.10,93.39 529.90,95.59 527.70,93.39" fill="#0010c8"/>
<polygon points="535.41,91.19 537.61,93.39 535.41,95.59 533.21,93.39" fill="#0010c8"/>
<polygon points="540.92,83.93 543.12,86.13 540.92,88.33 538.72,86.13" fill="#0010c8"/>
<polygon points="546.42,91.19 548.62,93.39 546.42,95.59 544.22,93.39" fill="#0010c8"/>
<polygon points="551.93,83.93 554.13,86.13 551.93,88.33 549.73,86.13" fill="#0010c8"/>
<polygon points="557.44,91.19 559.64,93.39 557.44,95.59 555.24,93.39" fill="#0010c8"/>
<polygon points="562.95,83.93 565.15,86.13 562.95,88.33 560.75,86.13" fill="#0010c8"/>
<polygon points="568.46,91.19 570.66,93.39 568.46,95.59 566.26,93.39" fill="#0010c8"/>
<polygon points="573.97,83.93 576.17,86.13 573.97,88.33 571.77,86.13" fill="#0010c8"/>
<polygon points="579.48,76.67 581.68,78.87 579.48,81.07 577.28,78.87" fill="#0010c8"/>
<polygon points="584.99,83.93 587.19,86.13 584.99,88.33 582.79,86.13" fill="#0010c8"/>
<polygon points="590.50,76.67 592.70,78.87 590.50,81.07 588.30,78.87" fill="#0010c8"/>
<polygon points="596.00,83.93 598.20,86.13 596.00,88.33 593.80,86.13" fill="#0010c8"/>
<polygon points="601.51,83.93 603.71,86.13 601.51,88.33 599.31,86.13" fill="#0010c8"/>
<polygon points="607.02,76.67 609.22,78.87 607.02,81.07 604.82,78.87" fill="#0010c8"/>
<polygon points="612.53,83.93 614.73,86.13 612.53,88.33 610.33,86.13" fill="#0010c8"/>
<polygon points="618.04,76.67 620.24,78.87 618.04,81.07 615.84,78.87" fill="#0010c8"/>
<polygon points="623.55,76.67 625.75,78.87 623.55,81.07 621.35,78.87" fill="#0010c8"/>
<polygon points="629.06,76.67 631.26,78.87 629.06,81.07 626.86,78.87" fill="#0010c8"/>
<polygon points="634.57,69.41 636.77,71.61 634.57,73.81 632.37,71.61" fill="#0010c8"/>
<polygon points="640.08,76.67 642.28,78.87 640.08,81.07 637.88,78.87" fill="#0010c8"/>
<polygon points="645.58,69.41 647.78,71.61 645.58,73.81 643.38,71.61" fill="#0010c8"/>
<polygon points="651.09,76.67 653.29,78.87 651.09,81.07 648.89,78.87" fill="#0010c8"/>
<polygon points="656.60,69.41 658.80,71.61 656.60,73.81 654.40,71.61" fill="#0010c8"/>
<polygon points="662.11,69.41 664.31,71.61 662.11,73.81 659.91,71.61" fill="#0010c8"/>
<polygon points="667.62,76.67 669.82,78.87 667.62,81.07 665.42,78.87" fill="#0010c8"/>
<polygon points="673.13,69.41 675.33,71.61 673.13,73.81 670.93,71.61" fill="#0010c8"/>
<polygon points="678.64,69.41 680.84,71.61 678.64,73.81 676.44,71.61" fill="#0010c8"/>
<polygon points="684.15,76.67 686.35,78.87 684.15,81.07 681.95,78.87" fill="#0010c8"/>
<polygon points="689.66,69.41 691.86,71.61 689.66,73.81 687.46,71.61" fill="#0010c8"/>
<path d="M469.58,156.12L474.53,110.48M477.41,107.90L477.72,107.90M481.89,105.83L484.25,102.71M487.40,98.57L489.76,95.46M492.91,95.46L495.27,98.57M498.42,98.57L500.78,95.46M503.93,91.31L506.29,88.20M510.46,86.13L510.77,86.13M514.94,88.20L517.31,91.31M520.45,91.31L522.82,88.20M525.96,88.20L528.33,91.31M532.50,93.39L532.81,93.39M536.98,91.31L539.34,88.20M542.49,88.20L544.85,91.31M549.02,93.39L549.33,93.39M553.51,91.31L555.87,88.20M559.01,88.20L561.38,91.31M565.55,93.39L565.86,93.39M570.03,91.31L572.40,88.20M575.54,88.20L577.91,91.31M581.05,91.31L583.41,88.20M586.56,88.20L588.92,91.31M592.07,91.31L594.43,88.20M598.60,86.13L598.91,86.13M603.09,88.20L605.45,91.31M608.59,91.31L610.96,88.20M615.13,86.13L615.44,86.13M619.61,88.20L621.98,91.31M626.15,93.39L626.46,93.39M630.63,91.31L632.99,88.20M637.17,86.13L637.48,86.13M641.65,84.06L644.01,80.94M648.18,78.87L648.49,78.87M652.67,80.94L655.03,84.06M659.20,86.13L659.51,86.13M663.68,84.06L666.05,80.94M670.22,78.87L670.53,78.87M674.70,80.94L677.07,84.06M680.21,84.06L682.57,80.94M686.75,78.87L687.06,78.87" fill="none" stroke="#ff00ff" stroke-width="1.2"/>
<polygon points="467.30,158.70 471.00,156.50 471.00,160.90" fill="#ff00ff"/>
<polygon points="472.81,107.90 476.51,105.70 476.51,110.10" fill="#ff00ff"/>
<polygon points="478.32,107.90 482.02,105.70 482.02,110.10" fill="#ff00ff"/>
<polygon points="483.83,100.64 487.53,98.44 487.53,102.84" fill="#ff00ff"/>
<polygon points="489.34,93.39 493.04,91.19 493.04,95.59" fill="#ff00ff"/>
<polygon points="494.84,100.64 498.54,98.44 498.54,102.84" fill="#ff00ff"/>
<polygon points="500.35,93.39 504.05,91.19 504.05,95.59" fill="#ff00ff"/>
<polygon points="505.86,86.13 509.56,83.93 509.56,88.33" fill="#ff00ff"/>
<polygon points="511.37,86.13 515.07,83.93 515.07,88.33" fill="#ff00ff"/>
<polygon points="516.88,93.39 520.58,91.19 520.58,95.59" fill="#ff00ff"/>
<polygon points="522.39,86.13 526.09,83.93 526.09,88.33" fill="#ff00ff"/>
<polygon points="527.90,93.39 531.60,91.19 531.60,95.59" fill="#ff00ff"/>
<polygon points="533.41,93.39 537.11,91.19 537.11,95.59" fill="#ff00ff"/>
<polygon points="538.92,86.13 542.62,83.93 542.62,88.33" fill="#ff00ff"/>
<polygon points="544.42,93.39 548.12,91.19 548.12,95.59" fill="#ff00ff"/>
<polygon points="549.93,93.39 553.63,91.19 553.63,95.59" fill="#ff00ff"/>
<polygon points="555.44,86.13 559.14,83.93 559.14,88.33" fill="#ff00ff"/>
<polygon points="560.95,93.39 564.65,91.19 564.65,95.59" fill="#ff00ff"/>
<polygon points="566.46,93.39 570.16,91.19 570.16,95.59" fill="#ff00ff"/>
<polygon points="571.97,86.13 575.67,83.93 575.67,88.33" fill="#ff00ff"/>
<polygon points="577.48,93.39 581.18,91.19 581.18,95.59" fill="#ff00ff"/>
<polygon points="582.99,86.13 586.69,83.93 586.69,88.33" fill="#ff00ff"/>
<polygon points="588.50,93.39 592.20,91.19 592.20,95.59" fill="#ff00ff"/>
<polygon points="594.00,86.13 597.70,83.93 597.70,88.33" fill="#ff00ff"/>
<polygon points="599.51,86.13 603.21,83.93 603.21,88.33" fill="#ff00ff"/>
<polygon points="605.02,93.39 608.72,91.19 608.72,95.59" fill="#ff00ff"/>
<polygon points="610.53,86.13 614.23,83.93 614.23,88.33" fill="#ff00ff"/>
<polygon points="616.04,86.13 619.74,83.93 619.74,88.33" fill="#ff00ff"/>
<polygon points="621.55,93.39 625.25,91.19 625.25,95.59" fill="#ff00ff"/>
<polygon points="627.06,93.39 630.76,91.19 630.76,95.59" fill="#ff00ff"/>
<polygon points="632.57,86.13 636.27,83.93 636.27,88.33" fill="#ff00ff"/>
<polygon points="638.08,86.13 641.78,83.93 641.78,88.33" fill="#ff00ff"/>
<polygon points="643.58,78.87 647.28,76.67 647.28,81.07" fill="#ff00ff"/>
<polygon points="649.09,78.87 652.79,76.67 652.79,81.07" fill="#ff00ff"/>
<polygon points="654.60,86.13 658.30,83.93 658.30,88.33" fill="#ff00ff"/>
<polygon points="660.11,86.13 663.81,83.93 663.81,88.33" fill="#ff00ff"/>
<polygon points="665.62,78.87 669.32,76.67 669.32,81.07" fill="#ff00ff"/>
<polygon points="671.13,78.87 674.83,76.67 674.83,81.07" fill="#ff00ff"/>
<polygon points="676.64,86.13 680.34,83.93 680.34,88.33" fill="#ff00ff"/>
<polygon points="682.15,78.87 685.85,76.67 685.85,81.07" fill="#ff00ff"/>
<polygon points="687.66,78.87 691.36,76.67 691.36,81.07" fill="#ff00ff"/>
<path d="M469.69,156.13L474.42,124.98M476.38,120.34L478.75,117.23M481.89,113.09L484.25,109.97M487.40,105.83L489.76,102.71M492.91,98.57L495.27,95.46M498.42,95.46L500.78,98.57M503.93,98.57L506.29,95.46M510.46,93.39L510.77,93.39M514.94,91.31L517.31,88.20M520.45,88.20L522.82,91.31M525.96,91.31L528.33,88.20M531.47,88.20L533.83,91.31M538.01,93.39L538.32,93.39M542.49,91.31L544.85,88.20M548.00,88.20L550.36,91.31M554.53,93.39L554.84,93.39M559.01,91.31L561.38,88.20M564.52,88.20L566.89,91.31M571.06,93.39L571.37,93.39M575.54,91.31L577.91,88.20M581.05,88.20L583.41,91.31M586.56,91.31L588.92,88.20M592.07,88.20L594.43,91.31M598.60,93.39L598.91,93.39M603.09,91.31L605.45,88.20M608.59,88.20L610.96,91.31M615.13,93.39L615.44,93.39M619.61,91.31L621.98,88.20M626.15,86.13L626.46,86.13M630.63,88.20L632.99,91.31M637.17,93.39L637.48,93.39M641.65,91.31L644.01,88.20M648.18,86.13L648.49,86.13M652.67,88.20L655.03,91.31M658.17,91.31L660.54,88.20M663.68,84.06L666.05,80.94M669.19,80.94L671.56,84.06M675.73,86.13L676.04,86.13M680.21,84.06L682.57,80.94M685.72,80.94L688.08,84.06" fill="none" stroke="#108010" stroke-width="1.2"/>
<polygon points="471.30,158.70 467.60,156.50 467.60,160.90" fill="#108010"/>
<polygon points="476.81,122.41 473.11,120.21 473.11,124.61" fill="#108010"/>
<polygon points="482.32,115.16 478.62,112.96 478.62,117.36" fill="#108010"/>
<polygon points="487.83,107.90 484.13,105.70 484.13,110.10" fill="#108010"/>
<polygon points="493.34,100.64 489.64,98.44 489.64,102.84" fill="#108010"/>
<polygon points="498.84,93.39 495.14,91.19 495.14,95.59" fill="#108010"/>
<polygon points="504.35,100.64 500.65,98.44 500.65,102.84" fill="#108010"/>
<polygon points="509.86,93.39 506.16,91.19 506.16,95.59" fill="#108010"/>
<polygon points="515.37,93.39 511.67,91.19 511.67,95.59" fill="#108010"/>
<polygon points="520.88,86.13 517.18,83.93 517.18,88.33" fill="#108010"/>
<polygon points="526.39,93.39 522.69,91.19 522.69,95.59" fill="#108010"/>
<polygon points="531.90,86.13 528.20,83.93 528.20,88.33" fill="#108010"/>
<polygon points="537.41,93.39 533.71,91.19 533.71,95.59" fill="#108010"/>
<polygon points="542.92,93.39 539.22,91.19 539.22,95.59" fill="#108010"/>
<polygon points="548.42,86.13 544.72,83.93 544.72,88.33" fill="#108010"/>
<polygon points="553.93,93.39 550.23,91.19 550.23,95.59" fill="#108010"/>
<polygon points="559.44,93.39 555.74,91.19 555.74,95.59" fill="#108010"/>
<polygon points="564.95,86.13 561.25,83.93 561.25,88.33" fill="#108010"/>
<polygon points="570.46,93.39 566.76,91.19 566.76,95.59" fill="#108010"/>
<polygon points="575.97,93.39 572.27,91.19 572.27,95.59" fill="#108010"/>
<polygon points="581.48,86.13 577.78,83.93 577.78,88.33" fill="#108010"/>
<polygon points="586.99,93.39 583.29,91.19 583.29,95.59" fill="#108010"/>
<polygon points="592.50,86.13 588.80,83.93 588.80,88.33" fill="#108010"/>
<polygon points="598.00,93.39 594.30,91.19 594.30,95.59" fill="#108010"/>
<polygon points="603.51,93.39 599.81,91.19 599.81,95.59" fill="#108010"/>
<polygon points="609.02,86.13 605.32,83.93 605.32,88.33" fill="#108010"/>
<polygon points="614.53,93.39 610.83,91.19 610.83,95.59" fill="#108010"/>
<polygon points="620.04,93.39 616.34,91.19 616.34,95.59" fill="#108010"/>
<polygon points="625.55,86.13 621.85,83.93 621.85,88.33" fill="#108010"/>
<polygon points="631.06,86.13 627.36,83.93 627.36,88.33" fill="#108010"/>
<polygon points="636.57,93.39 632.87,91.19 632.87,95.59" fill="#108010"/>
<polygon points="642.08,93.39 638.38,91.19 638.38,95.59" fill="#108010"/>
<polygon points="647.58,86.13 643.88,83.93 643.88,88.33" fill="#108010"/>
<polygon points="653.09,86.13 649.39,83.93 649.39,88.33" fill="#108010"/>
<polygon points="658.60,93.39 654.90,91.19 654.90,95.59" fill="#108010"/>
<polygon points="664.11,86.13 660.41,83.93 660.41,88.33" fill="#108010"/>
<polygon points="669.62,78.87 665.92,76.67 665.92,81.07" fill="#108010"/>
<polygon points="675.13,86.13 671.43,83.93 671.43,88.33" fill="#108010"/>
<polygon points="680.64,86.13 676.94,83.93 676.94,88.33" fill="#108010"/>
<polygon points="686.15,78.87 682.45,76.67 682.45,81.07" fill="#108010"/>
<polygon points="691.66,86.13 687.96,83.93 687.96,88.33" fill="#108010"/>
<rect x="498.2" y="108.6" width="216.5" height="87.5" fill="#ffffff"/>
<line x1="513.6" y1="119.70" x2="535.7" y2="119.70" stroke="#000000" stroke-width="1.7"/>
<rect x="522.21" y="117.31" width="4.78" height="4.78" fill="#000000"/>
<text x="538.7" y="122.90" style="font-family:'Liberation Serif',serif;font-size:9.2px;font-weight:normal;fill:#000" text-anchor="start" >Distilled Water</text>
<line x1="513.6" y1="130.80" x2="535.7" y2="130.80" stroke="#ee1111" stroke-width="1.7"/>
<circle cx="524.60" cy="130.80" r="2.68" fill="#ee1111"/>
<text x="538.7" y="134.00" style="font-family:'Liberation Serif',serif;font-size:9.2px;font-weight:normal;fill:#000" text-anchor="start" >Distilled Water and 0.2 g CNTs-COOH/litre</text>
<line x1="513.6" y1="141.90" x2="535.7" y2="141.90" stroke="#e09a30" stroke-width="1.7"/>
<polygon points="524.60,139.00 527.79,144.37 521.41,144.37" fill="#e09a30"/>
<text x="538.7" y="145.10" style="font-family:'Liberation Serif',serif;font-size:9.2px;font-weight:normal;fill:#000" text-anchor="start" >Distilled Water and 0.4 g CNTs-COOH/litre</text>
<line x1="513.6" y1="153.00" x2="535.7" y2="153.00" stroke="#801010" stroke-width="1.7"/>
<polygon points="524.60,155.90 527.79,150.53 521.41,150.53" fill="#801010"/>
<text x="538.7" y="156.20" style="font-family:'Liberation Serif',serif;font-size:9.2px;font-weight:normal;fill:#000" text-anchor="start" >Distilled Water and 0.6 g CNTs-COOH/litre</text>
<line x1="513.6" y1="164.10" x2="535.7" y2="164.10" stroke="#0010c8" stroke-width="1.7"/>
<polygon points="524.60,160.91 527.79,164.10 524.60,167.29 521.41,164.10" fill="#0010c8"/>
<text x="538.7" y="167.30" style="font-family:'Liberation Serif',serif;font-size:9.2px;font-weight:normal;fill:#000" text-anchor="start" >Distilled Water and 0.8 g CNTs-COOH/litre</text>
<line x1="513.6" y1="175.20" x2="535.7" y2="175.20" stroke="#ff00ff" stroke-width="1.7"/>
<polygon points="521.70,175.20 527.07,172.01 527.07,178.39" fill="#ff00ff"/>
<text x="538.7" y="178.40" style="font-family:'Liberation Serif',serif;font-size:9.2px;font-weight:normal;fill:#000" text-anchor="start" >Distilled Water and 1.0 g CNTs-COOH/litre</text>
<line x1="513.6" y1="186.30" x2="535.7" y2="186.30" stroke="#108010" stroke-width="1.7"/>
<polygon points="527.50,186.30 522.13,183.11 522.13,189.49" fill="#108010"/>
<text x="538.7" y="189.50" style="font-family:'Liberation Serif',serif;font-size:9.2px;font-weight:normal;fill:#000" text-anchor="start" >Distilled Water and 1.2 g CNTs-COOH/litre</text>
<line x1="524.39" y1="196.1" x2="524.39" y2="209.5" stroke="#c4c4c4" stroke-width="1"/>
<line x1="551.93" y1="196.1" x2="551.93" y2="209.5" stroke="#c4c4c4" stroke-width="1"/>
<line x1="607.02" y1="196.1" x2="607.02" y2="209.5" stroke="#c4c4c4" stroke-width="1"/>
<line x1="634.57" y1="196.1" x2="634.57" y2="209.5" stroke="#c4c4c4" stroke-width="1"/>
<line x1="662.11" y1="196.1" x2="662.11" y2="209.5" stroke="#c4c4c4" stroke-width="1"/>
<line x1="689.66" y1="196.1" x2="689.66" y2="209.5" stroke="#c4c4c4" stroke-width="1"/>
<rect x="469.3" y="6.3" width="247.90" height="203.20" fill="none" stroke="#000" stroke-width="1.5"/>
</svg>
</body></html>
